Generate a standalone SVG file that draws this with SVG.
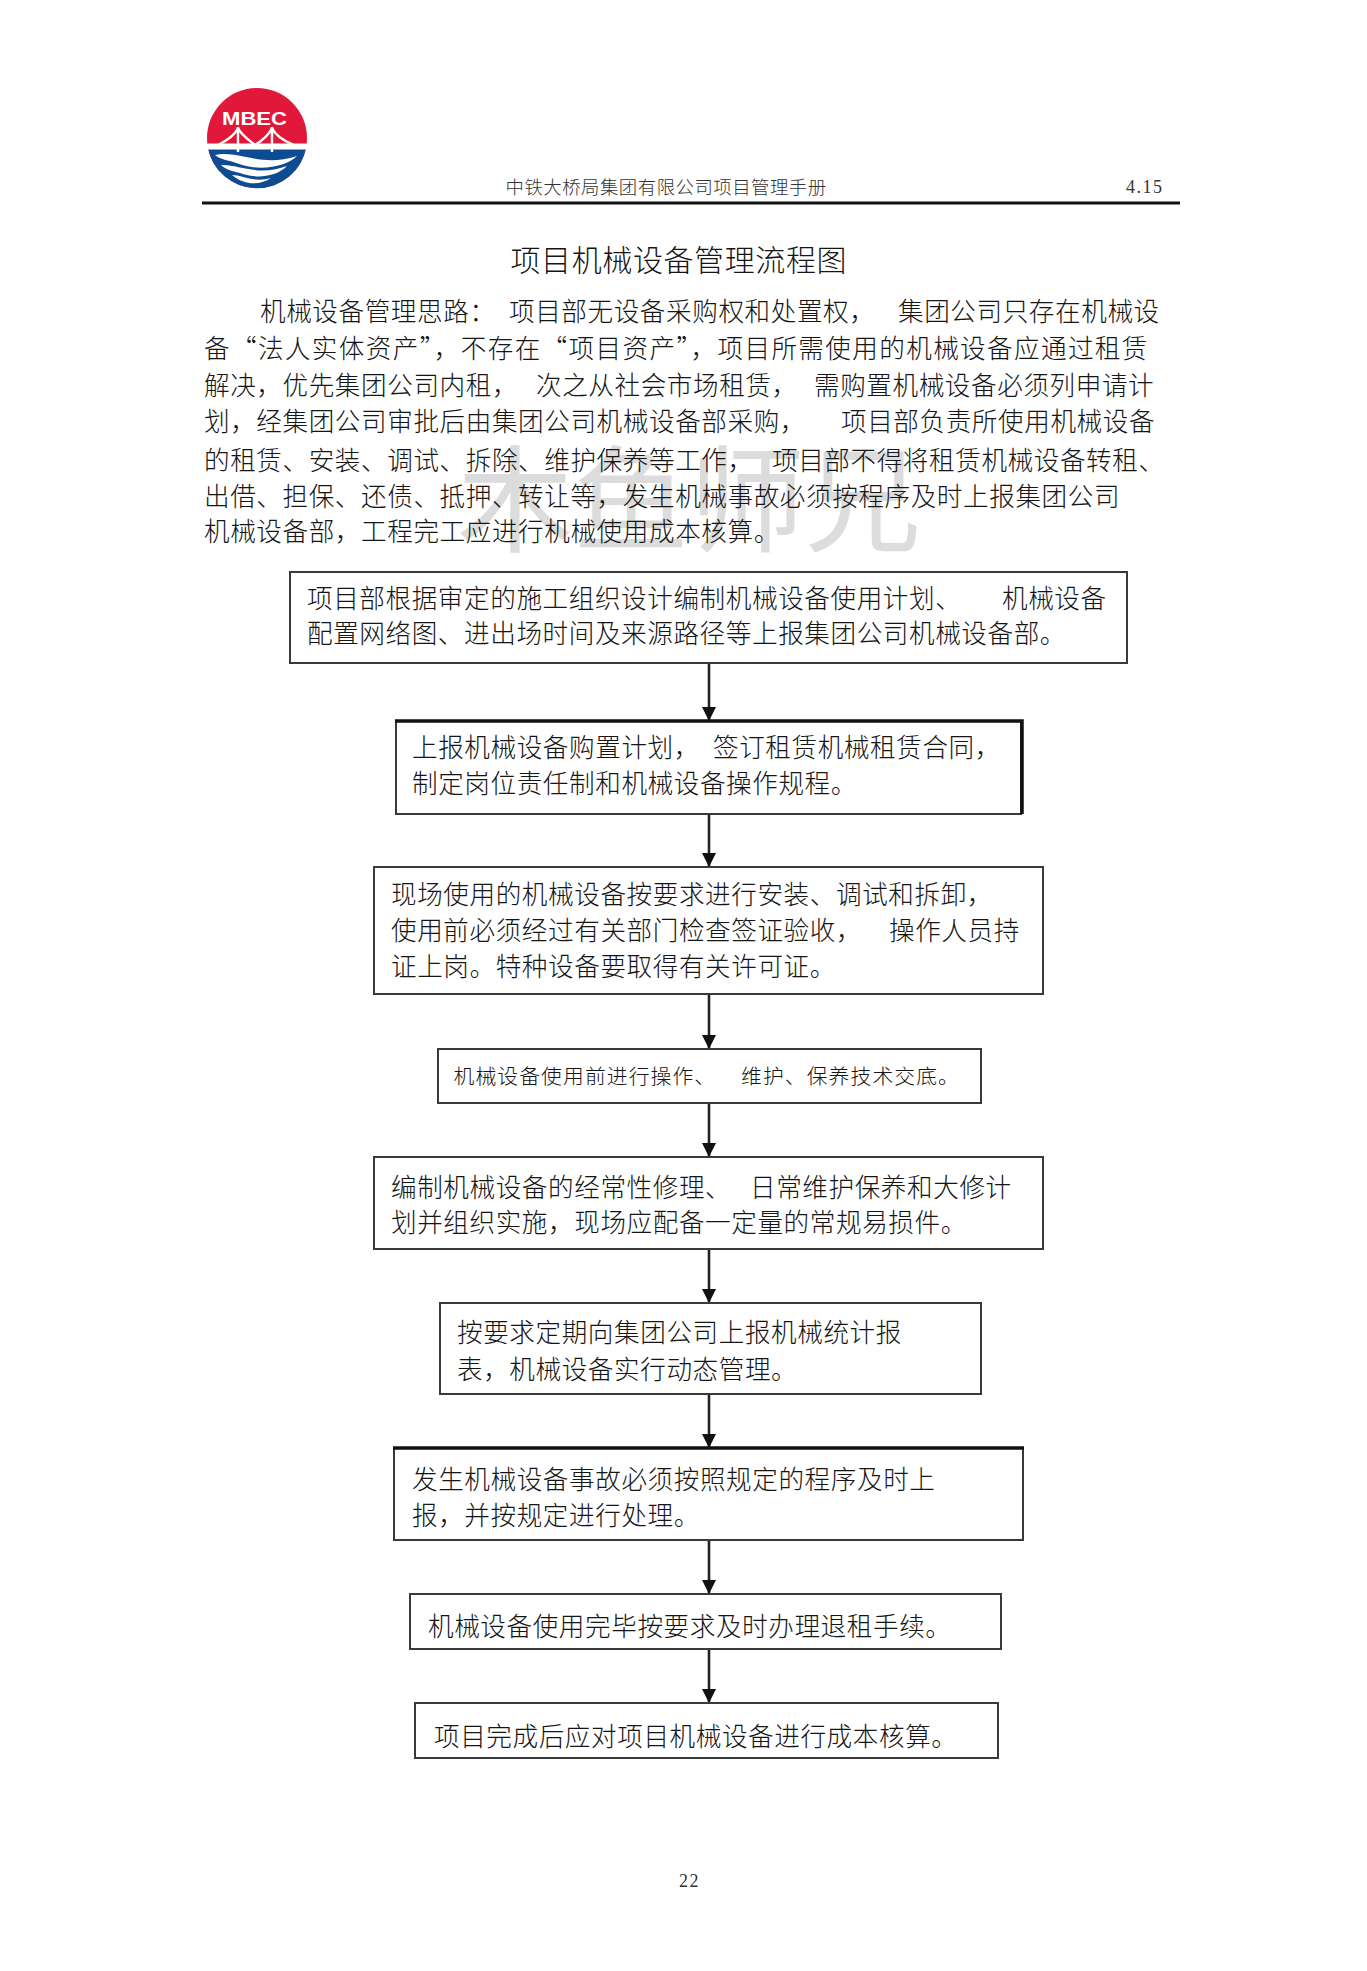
<svg xmlns="http://www.w3.org/2000/svg" width="1367" height="1971" viewBox="0 0 1367 1971">
<style>
text{font-family:"Noto Sans CJK SC","Noto Sans CJK JP",sans-serif;fill:#151515;font-weight:300}
.b{font-size:25.6px;letter-spacing:.58px}
.s{font-size:20.8px;letter-spacing:1.1px}
.d{font-family:"Liberation Serif",serif;font-size:18px;letter-spacing:1.5px;fill:#333;font-weight:400}
.h{font-size:18.4px;letter-spacing:.5px;fill:#333}
.t{font-size:30px;letter-spacing:.6px}
.w{font-size:116px;fill:#dcdcdc;font-weight:400}
.box{fill:#fff;stroke:#3a3a3a;stroke-width:2}
.hv{stroke:#111;stroke-width:3.5;fill:none}
.c{stroke:#222;stroke-width:2.6;fill:none;marker-end:url(#ah)}
</style>
<defs>
<marker id="ah" markerUnits="userSpaceOnUse" markerWidth="14" markerHeight="14" refX="14" refY="7" orient="auto">
<path d="M0 0L14 7L0 14Z" fill="#111"/>
</marker>
</defs>
<rect width="1367" height="1971" fill="#fff"/>
<g id="logo">
<circle cx="257" cy="138" r="50" fill="#e2183a"/>
<path d="M207.600 146H306.400A50 50 0 0 1 207.600 146Z" fill="#0d4c92"/>
<rect x="207" y="143.500" width="100" height="6" fill="#fff"/>
<path d="M215 155C239 150 261 168 297 156C287 166 261 172 239 164C229 160 221 160 215 155ZM221 165C239 164 257 177 287 166C275 178 255 178 243 174C235 171 227 171 221 165ZM232 175C243 175 253 183 271 178C261 185 245 186 232 175Z" fill="#fff"/>
<path d="M238 127V152M272 127V152" stroke="#fff" stroke-width="2.4" fill="none"/>
<path d="M238 128C235 135 228 140 218 145M238 128C241 135 249 140 255 145M272 128C269 135 263 140 255 145M272 128C275 135 284 141 294 145" stroke="#fff" stroke-width="2.4" fill="none"/>
<text x="222" y="125" textLength="65" lengthAdjust="spacingAndGlyphs" style="font-family:'Liberation Sans',sans-serif;font-weight:700;font-size:19px;fill:#fff">MBEC</text>
</g>
<g id="header">
<text class="h" x="505.500" y="194">中铁大桥局集团有限公司项目管理手册</text>
<text class="d" x="1126" y="193">4.15</text>
<rect x="202" y="201.500" width="978" height="3" fill="#111"/>
</g>
<text class="w" x="457" y="543">木鱼师兄</text>
<text class="t" x="510.500" y="271">项目机械设备管理流程图</text>
<g id="intro">
<text class="b" x="260" y="321">机械设备管理思路&#xFF1A;</text><text class="b" x="509" y="321">项目部无设备采购权和处置权&#xFF0C;</text><text class="b" x="898" y="321">集团公司只存在机械设</text>
<text class="b" x="204" y="358" textLength="944">备&#x201C;法人实体资产&#x201D;&#xFF0C;不存在&#x201C;项目资产&#x201D;&#xFF0C;项目所需使用的机械设备应通过租赁</text>
<text class="b" x="204" y="395">解决&#xFF0C;优先集团公司内租&#xFF0C;</text><text class="b" x="536" y="395">次之从社会市场租赁&#xFF0C;</text><text class="b" x="814" y="395">需购置机械设备必须列申请计</text>
<text class="b" x="204" y="431">划&#xFF0C;经集团公司审批后由集团公司机械设备部采购&#xFF0C;</text><text class="b" x="841" y="431">项目部负责所使用机械设备</text>
<text class="b" x="204" y="470">的租赁、安装、调试、拆除、维护保养等工作&#xFF0C;</text><text class="b" x="772" y="470">项目部不得将租赁机械设备转租、</text>
<text class="b" x="204" y="506">出借、担保、还债、抵押、转让等&#xFF0C;发生机械事故必须按程序及时上报集团公司</text>
<text class="b" x="204" y="541">机械设备部&#xFF0C;工程完工应进行机械使用成本核算。</text>
</g>
<g id="connectors">
<path class="c" d="M709 663V721"/>
<path class="c" d="M709 814V867"/>
<path class="c" d="M709 994V1049"/>
<path class="c" d="M709 1103V1157"/>
<path class="c" d="M709 1249V1303"/>
<path class="c" d="M709 1394V1448"/>
<path class="c" d="M709 1540V1594"/>
<path class="c" d="M709 1649V1703"/>
</g>
<g id="n1"><rect class="box" x="290" y="572" width="837" height="91"/>
<text class="b" x="307" y="608">项目部根据审定的施工组织设计编制机械设备使用计划、</text><text class="b" x="1002" y="608">机械设备</text>
<text class="b" x="307" y="643">配置网络图、进出场时间及来源路径等上报集团公司机械设备部。</text></g>
<g id="n2"><rect class="box" x="396" y="721" width="625" height="93"/><path class="hv" d="M395 721H1022V814"/>
<text class="b" x="412" y="757">上报机械设备购置计划&#xFF0C;</text><text class="b" x="713" y="757">签订租赁机械租赁合同&#xFF0C;</text>
<text class="b" x="412" y="793">制定岗位责任制和机械设备操作规程。</text></g>
<g id="n3"><rect class="box" x="374" y="867" width="669" height="127"/>
<text class="b" x="391" y="904">现场使用的机械设备按要求进行安装、调试和拆卸&#xFF0C;</text>
<text class="b" x="391" y="940">使用前必须经过有关部门检查签证验收&#xFF0C;</text><text class="b" x="889" y="940">操作人员持</text>
<text class="b" x="391" y="976">证上岗。特种设备要取得有关许可证。</text></g>
<g id="n4"><rect class="box" x="438" y="1049" width="543" height="54"/>
<text class="s" x="453.500" y="1084">机械设备使用前进行操作、</text><text class="s" x="741" y="1084">维护、保养技术交底。</text></g>
<g id="n5"><rect class="box" x="374" y="1157" width="669" height="92"/>
<text class="b" x="391" y="1197">编制机械设备的经常性修理、</text><text class="b" x="750" y="1197">日常维护保养和大修计</text>
<text class="b" x="391" y="1232">划并组织实施&#xFF0C;现场应配备一定量的常规易损件。</text></g>
<g id="n6"><rect class="box" x="440" y="1303" width="541" height="91"/>
<text class="b" x="457" y="1342">按要求定期向集团公司上报机械统计报</text>
<text class="b" x="457" y="1379">表&#xFF0C;机械设备实行动态管理。</text></g>
<g id="n7"><rect class="box" x="394" y="1448" width="629" height="92"/><path class="hv" d="M393 1448H1024"/>
<text class="b" x="412" y="1489">发生机械设备事故必须按照规定的程序及时上</text>
<text class="b" x="412" y="1525">报&#xFF0C;并按规定进行处理。</text></g>
<g id="n8"><rect class="box" x="410" y="1594" width="591" height="55"/>
<text class="b" x="428" y="1636">机械设备使用完毕按要求及时办理退租手续。</text></g>
<g id="n9"><rect class="box" x="415" y="1703" width="583" height="55"/>
<text class="b" x="434" y="1746">项目完成后应对项目机械设备进行成本核算。</text></g>
<text class="d" x="679" y="1887">22</text>
</svg>
